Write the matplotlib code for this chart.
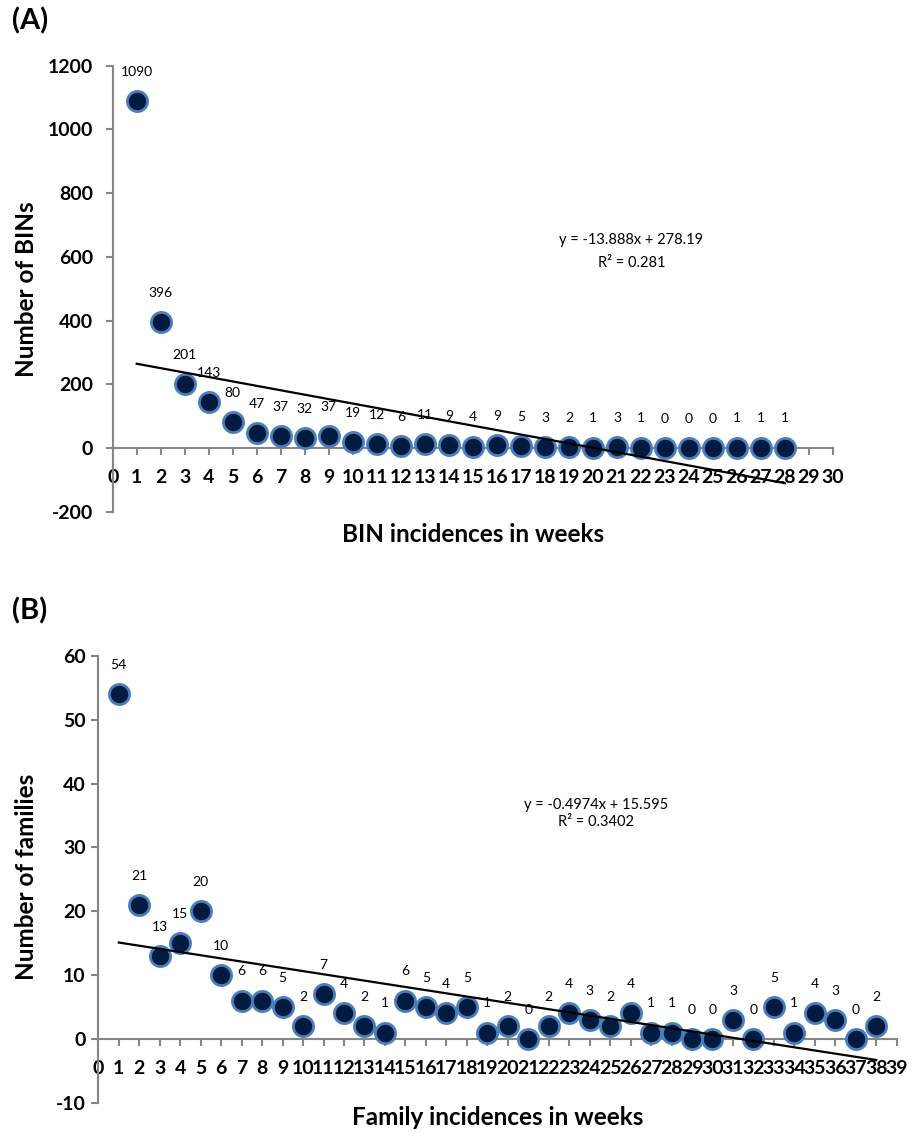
import matplotlib
matplotlib.use("Agg")
import matplotlib.pyplot as plt
import numpy as np

# panel A: BIN incidences
weeks_a = np.arange(1, 29)
bins_a = [1090, 396, 201, 143, 80, 47, 37, 32, 37, 19, 12, 6, 11, 9, 4, 9, 5, 3,
          2, 1, 3, 1, 0, 0, 0, 1, 1, 1]
trend_a = (-13.888, 278.19)
r2_a = 0.281

# panel B: family incidences
weeks_b = np.arange(1, 39)
fams_b = [54, 21, 13, 15, 20, 10, 6, 6, 5, 2, 7, 4, 2, 1, 6, 5, 4, 5, 1, 2, 0, 2,
          4, 3, 2, 4, 1, 1, 0, 0, 3, 0, 5, 1, 4, 3, 0, 2]
trend_b = (-0.4974, 15.595)
r2_b = 0.3402

plt.rcParams['font.family'] = ['Lato', 'DejaVu Sans']
plt.rcParams['axes.unicode_minus'] = False

face = '#001a40'
edge = '#4a7ebb'
axis_col = '#868686'

fig = plt.figure(figsize=(9.17, 11.38), dpi=100)
ax_a = fig.add_axes([0.1229, 0.5504, 0.9084 - 0.1229, 0.9423 - 0.5504])
ax_b = fig.add_axes([0.1072, 0.0310, 0.9779 - 0.1072, 0.4236 - 0.0310])


def draw_panel(ax, x, y, trend, r2, xmax, ylim, ystep, eq_pos, eq_gap, xlabel,
               xlab_y, ypad):
    ax.plot(x, y, 'o', ms=14.5, mfc=face, mec=edge, mew=2, zorder=3, clip_on=False)
    for xi, yi in zip(x, y):
        ax.annotate(str(yi), (xi, yi), xytext=(0, 21), textcoords='offset points',
                    ha='center', va='center', fontsize=10, zorder=4)
    slope, icpt = trend
    xt = np.array([x[0], x[-1]])
    ax.plot(xt, slope * xt + icpt, color='black', lw=1.6, zorder=5, clip_on=False)
    sign = '+' if icpt >= 0 else '-'
    ax.text(eq_pos[0], eq_pos[1], f'y = {slope}x {sign} {abs(icpt)}',
            ha='center', va='center', fontsize=10.5)
    ax.text(eq_pos[0], eq_pos[1] - eq_gap, f'R² = {r2}',
            ha='center', va='center', fontsize=10.5)

    ax.set_xlim(0, xmax)
    ax.set_ylim(*ylim)
    ax.set_xticks(np.arange(0, xmax + 1))
    ax.set_yticks(np.arange(ylim[0], ylim[1] + ystep, ystep))
    for s in ['top', 'right']:
        ax.spines[s].set_visible(False)
    ax.spines['bottom'].set_position(('data', 0))
    ax.spines['bottom'].set_color(axis_col)
    ax.spines['left'].set_color(axis_col)
    ax.spines['bottom'].set_linewidth(1.5)
    ax.spines['left'].set_linewidth(1.5)
    ax.tick_params(axis='x', direction='out', length=5, width=1.5, color=axis_col,
                   pad=10, labelsize=14)
    ax.tick_params(axis='y', direction='out', length=5, width=1.5, color=axis_col,
                   pad=ypad, labelsize=14)
    for lab in ax.get_xticklabels() + ax.get_yticklabels():
        lab.set_fontweight('bold')
    ax.text(0.5, xlab_y, xlabel, transform=ax.transAxes, ha='center', va='center',
            fontsize=17.5, fontweight='bold')


draw_panel(ax_a, weeks_a, bins_a, trend_a, r2_a, 30, (-200, 1200), 200,
           (21.6, 652.7), 71.2, 'BIN incidences in weeks', -0.052, 9)
draw_panel(ax_b, weeks_b, fams_b, trend_b, r2_b, 39, (-10, 60), 10,
           (24.3, 36.7), 2.7, 'Family incidences in weeks', -0.033, 4)

# y axis titles and panel letters
fig.text(27 / 917, 1 - 289 / 1138, 'Number of BINs', rotation=90, ha='center',
         va='center', fontsize=17.5, fontweight='bold')
fig.text(27 / 917, 1 - 877 / 1138, 'Number of families', rotation=90, ha='center',
         va='center', fontsize=17.5, fontweight='bold')
fig.text(12 / 917, 1 - 21 / 1138, '(A)', ha='left', va='center', fontsize=21,
         fontweight='bold')
fig.text(12 / 917, 1 - 611 / 1138, '(B)', ha='left', va='center', fontsize=21,
         fontweight='bold')

fig.savefig('out.png', dpi=100)
